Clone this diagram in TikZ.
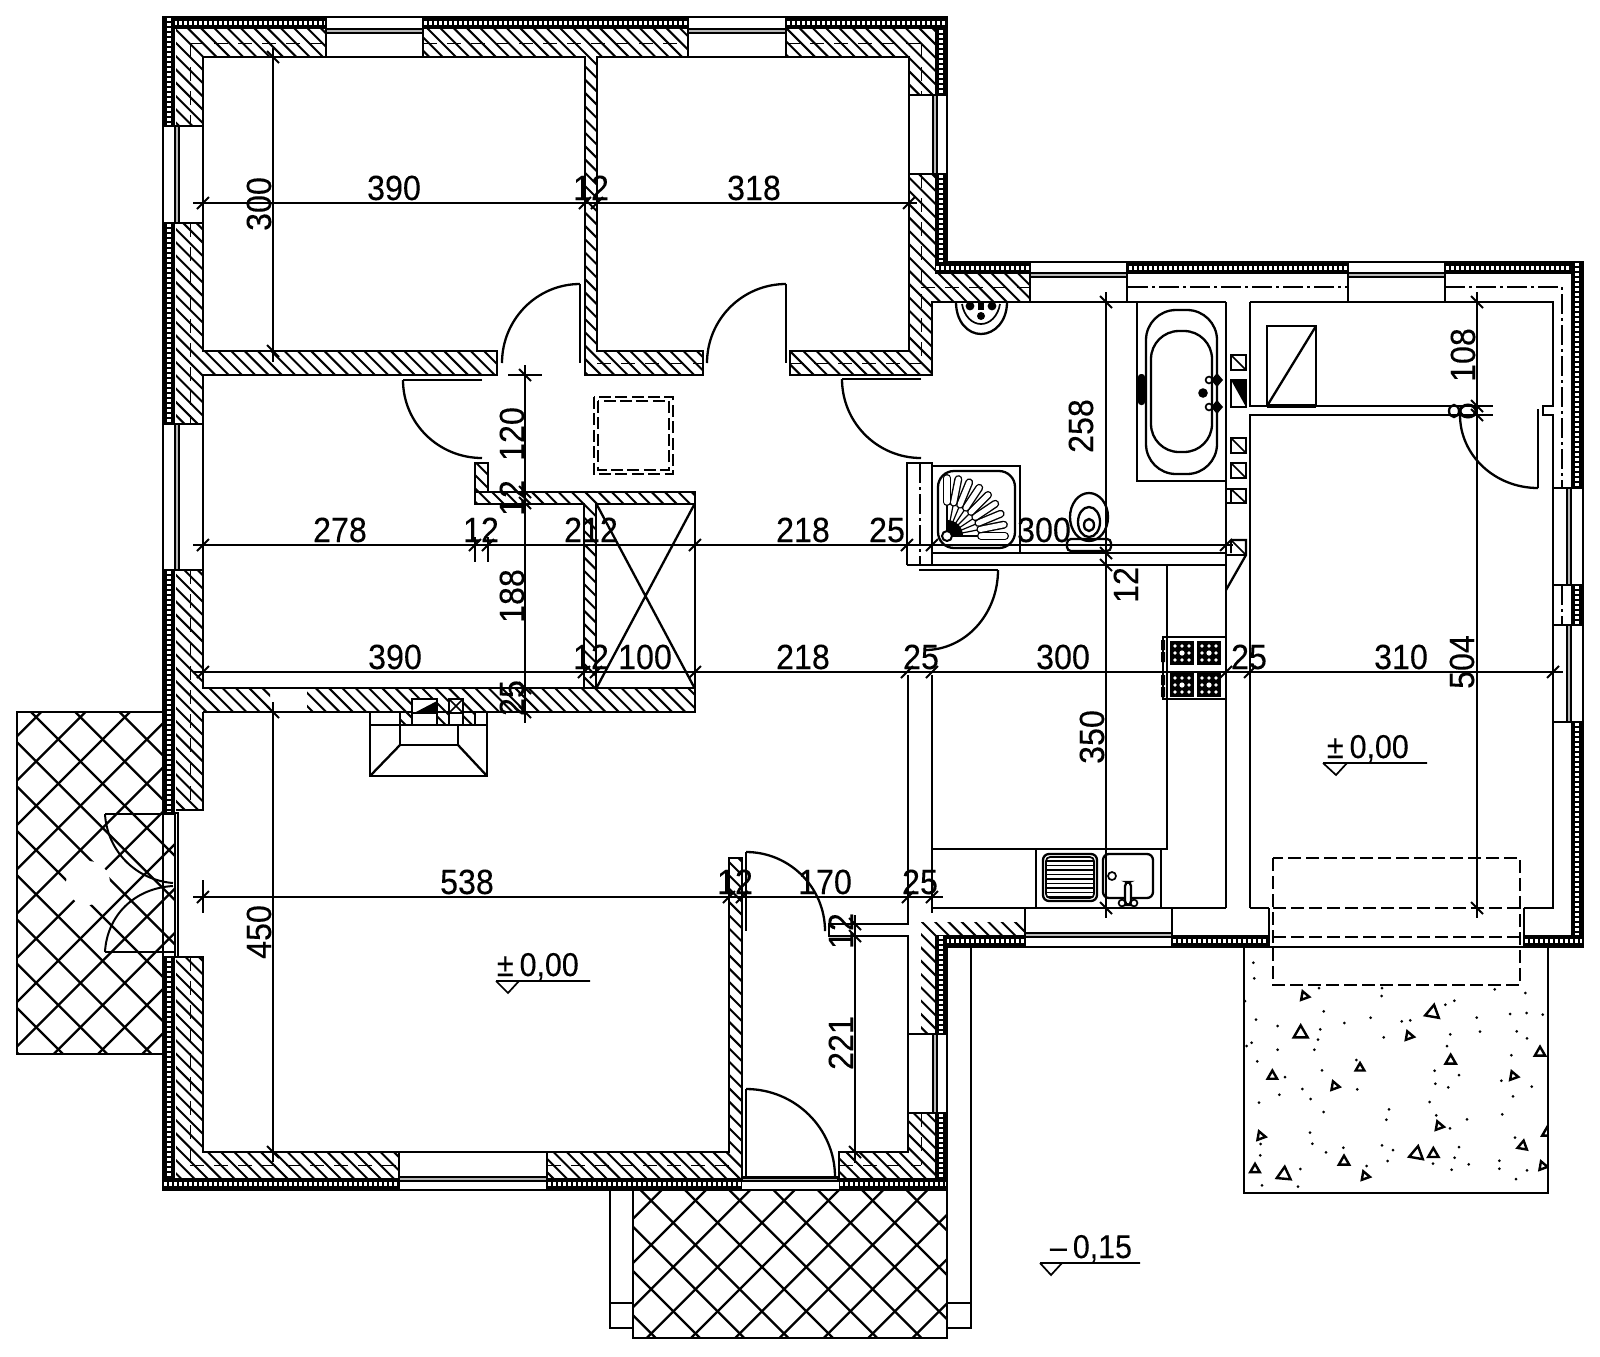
\documentclass[tikz,border=0pt]{standalone}
\usepackage{fontspec}
\setmainfont[FakeStretch=0.92,FakeBold=0.15]{Liberation Sans}
\usetikzlibrary{calc}
\tikzset{
  ln/.style={draw=black,line width=1.15pt},
  tn/.style={draw=black,line width=0.85pt},
  dl/.style={draw=black,line width=1pt},
  hl/.style={draw=black,line width=1pt},
  xl/.style={draw=black,line width=1.15pt},
  mid/.style={draw=black,line width=0.5pt,dash pattern=on 7pt off 5pt},
  dashdot/.style={draw=black,line width=1pt,dash pattern=on 10pt off 2pt on 1.5pt off 2pt},
  dashbox/.style={draw=black,line width=1.15pt,dash pattern=on 6.5pt off 2.5pt},
  dashsq/.style={draw=black,line width=1pt,dash pattern=on 6pt off 2.2pt},
  lab/.style={inner sep=0pt,outer sep=0pt,font=\fontsize{17.5}{20}\selectfont},
  lev/.style={inner sep=0pt,outer sep=0pt,font=\fontsize{16.5}{18}\selectfont},
  tl/.style={draw=black,line width=1.2pt,line join=miter},
  glass/.style={draw=black,line width=0.6pt,fill=black!28},
  dots/.style={draw=white,line width=2.2pt,dash pattern=on 1.5pt off 1pt}
}
\newcommand\hdim[4]{\draw[dl] (#2,#1) -- (#3,#1);
  \foreach \t in {#4} {\draw[dl] (\t-6,#1+6) -- (\t+6,#1-6);}}
\newcommand\vdim[4]{\draw[dl] (#1,#2) -- (#1,#3);
  \foreach \t in {#4} {\draw[dl] (#1-6,\t-6) -- (#1+6,\t+6);}}
\newcommand\hlab[4]{\node[lab,anchor=base] (#1) at (#2,#3) {#4};}
\newcommand\vlab[4]{\node[lab,rotate=90,anchor=base] (#1) at (#2,#3) {#4};}
\newcommand\qarc[3]{\draw[ln] (#1) .. controls ($(#1)!0.5523!(#2)$) and ($(#3)!0.5523!(#2)$) .. (#3);}
% insulation bands
\newcommand\insh[3]{\fill[black] (#1,#3) rectangle (#2,#3+12); \draw[dots] (#1+1,#3+6) -- (#2-1,#3+6);}
\newcommand\insv[3]{\fill[black] (#3,#1) rectangle (#3+12,#2); \draw[dots] (#3+6,#1+1) -- (#3+6,#2-1);}
\newcommand\glh[3]{\draw[glass] (#1,#3) rectangle (#2,#3+4);}
\newcommand\glv[3]{\draw[glass] (#3,#1) rectangle (#3+4,#2);}
\newcommand\crossh[2]{\foreach \k in {-13,...,13}{
   \pgfmathsetmacro\ca{#1+44.3*\k}\pgfmathsetmacro\cb{#2+44.3*\k}
   \draw[xl] (\ca+600,600) -- (\ca+1400,1400);
   \draw[xl] (\cb-600,600) -- (\cb-1400,1400);}}
\newcommand\trimark[4]{\draw[tl] ({1240+#1/3+#3*cos(#4)},{950+#2/3+#3*sin(#4)}) -- ({1240+#1/3+#3*cos(#4+120)},{950+#2/3+#3*sin(#4+120)}) -- ({1240+#1/3+#3*cos(#4+240)},{950+#2/3+#3*sin(#4+240)}) -- cycle;}
\newcommand\chsq[2]{\draw[ln] (1231,#1) rectangle (1246,#2); \draw[tn] (1231,#1) -- (1246,#2);}
\newcommand\burner[2]{\fill[black] (#1-12,#2-12) rectangle (#1+12,#2+12);
  \foreach \i in {-7,0,7}{\foreach \j in {-7,0,7}{\fill[white] (#1+\i,#2+\j) circle (0.9pt);}}
  \fill[white] (#1,#2) circle (1.3pt);}
\begin{document}
\begin{tikzpicture}[x=0.5pt,y=-0.5pt,line cap=butt]
\useasboundingbox (0,0) rectangle (1600,1356);
\fill[white] (0,0) rectangle (1600,1356);

% ---- cross hatched terraces
\begin{scope}
 \clip (17,712) rectangle (163,1054) (163,813) rectangle (174,957);
 \crossh{-681}{797.6}
 \fill[white] (88,883) circle (11pt);
\end{scope}
\begin{scope}
 \clip (633,1190) rectangle (947,1338);
 \crossh{-549.4}{1896}
\end{scope}

% ---- wall hatching
\begin{scope}
 \clip (176,29) rectangle (326,57)
  (423,29) rectangle (688,57)
  (786,29) rectangle (935,57)
  (909,57) rectangle (935,95)
  (909,174) rectangle (935,275)
  (909,275) rectangle (932,375)
  (932,274) rectangle (1030,302)
  (176,57) rectangle (203,126)
  (176,223) rectangle (203,424)
  (176,570) rectangle (203,810)
  (176,957) rectangle (203,1178)
  (203,1152) rectangle (399,1178)
  (547,1152) rectangle (742,1178)
  (729,858) rectangle (742,1178)
  (839,1152) rectangle (935,1178)
  (909,1113) rectangle (935,1152)
  (921,922) rectangle (935,1034)
  (921,922) rectangle (1025,935)
  (203,351) rectangle (497,375)
  (585,57) rectangle (597,375)
  (585,351) rectangle (703,375)
  (790,351) rectangle (932,375)
  (475,463) rectangle (488,504)
  (475,492) rectangle (695,504)
  (584,504) rectangle (596,688)
  (203,688) rectangle (270,712)
  (307,688) rectangle (695,712)
  (400,712) rectangle (412,725)
  (437,712) rectangle (449,725)
  (463,712) rectangle (475,725);
 \foreach \k in {-95,...,72}{
   \pgfmathsetmacro\ca{\k*13.3}
   \draw[hl] (\ca+0,0) -- (\ca+1300,1300);}
\end{scope}

% mid dashes of the walls
\draw[mid] (190,43) -- (326,43) (423,43) -- (688,43) (786,43) -- (921,43);
\draw[mid] (190,43) -- (190,126) (190,223) -- (190,424) (190,570) -- (190,810) (190,957) -- (190,1165);
\draw[mid] (190,1165) -- (399,1165) (547,1165) -- (729,1165) (839,1165) -- (921,1165);
\draw[mid] (921,43) -- (921,95) (921,174) -- (921,363) (921,1113) -- (921,1165);
\draw[mid] (790,363) -- (921,363) (597,363) -- (703,363) (921,287) -- (1030,287);

% insulation
\insh{163}{326}{17}\insh{423}{688}{17}\insh{786}{947}{17}
\insv{17}{126}{163}\insv{223}{424}{163}\insv{570}{813}{163}\insv{957}{1190}{163}
\insv{29}{95}{935}\insv{174}{274}{935}
\insh{935}{1030}{262}\insh{1128}{1348}{262}\insh{1445}{1583}{262}
\insv{262}{488}{1571}\insv{585}{625}{1571}\insv{722}{947}{1571}
\insh{1172}{1269}{935}\insh{1524}{1583}{935}\insh{935}{1025}{935}
\insv{935}{1034}{935}\insv{1113}{1190}{935}
\insh{163}{399}{1178}\insh{547}{742}{1178}\insh{839}{947}{1178}

% glazing
\glh{326}{423}{29}\glh{688}{786}{29}
\glv{95}{174}{933}\glv{126}{223}{175}\glv{424}{570}{175}
\glh{1030}{1127}{273}\glh{1348}{1445}{273}
\glv{488}{585}{1567}\glv{625}{722}{1567}
\glh{1025}{1172}{933}\glv{1034}{1113}{933}
\glh{742}{838}{1177}\glh{399}{547}{1177}

% exterior
\draw[ln] (163,17) -- (947,17) -- (947,262) -- (1583,262) -- (1583,947) -- (947,947) -- (947,1190) -- (163,1190) -- cycle;
\draw[ln] (163,712) -- (17,712) -- (17,1054) -- (163,1054);
\draw[ln] (633,1190) -- (633,1338) -- (947,1338) -- (947,1190);
\draw[ln] (610,1190) -- (610,1328) -- (633,1328) (610,1303) -- (633,1303);
\draw[ln] (947,1303) -- (971,1303) (947,1328) -- (971,1328) -- (971,947);
\draw[ln] (1244,947) -- (1244,1193) -- (1548,1193) -- (1548,947);

% window jambs
\draw[ln] (326,17) -- (326,57) (423,17) -- (423,57) (688,17) -- (688,57) (786,17) -- (786,57);
\draw[ln] (163,126) -- (203,126) (163,223) -- (203,223) (163,424) -- (203,424) (163,570) -- (203,570);
\draw[ln] (909,95) -- (947,95) (909,174) -- (947,174);
\draw[ln] (1030,262) -- (1030,302) (1127,262) -- (1127,302) (1348,262) -- (1348,302) (1445,262) -- (1445,302);
\draw[ln] (1553,488) -- (1583,488) (1553,585) -- (1583,585) (1553,625) -- (1583,625) (1553,722) -- (1583,722);
\draw[ln] (1025,908) -- (1025,947) (1172,908) -- (1172,947) (1269,908) -- (1269,947) (1524,908) -- (1524,947);
\draw[ln] (908,1034) -- (947,1034) (908,1113) -- (947,1113);
\draw[ln] (399,1152) -- (399,1190) (547,1152) -- (547,1190) (742,1178) -- (838,1178);
\draw[ln] (399,1152) -- (547,1152);

% room 1 and 2
\draw[ln] (203,57) -- (585,57) -- (585,375) -- (703,375) -- (703,351) -- (597,351) -- (597,57) -- (909,57) -- (909,351) -- (790,351) -- (790,375) -- (932,375) -- (932,302) -- (1226,302);
\draw[ln] (203,57) -- (203,351) -- (497,351) -- (497,375) -- (203,375) -- (203,688) -- (695,688) -- (695,492) -- (475,492) (203,712) -- (695,712) -- (695,688);
\draw[ln] (203,712) -- (203,810) -- (176,810);
\draw[ln] (176,957) -- (203,957) -- (203,1152) -- (399,1152) (547,1152) -- (729,1152) -- (729,858) -- (742,858) -- (742,1178);
\draw[ln] (839,1178) -- (839,1152) -- (908,1152) -- (908,936) -- (829,936) -- (829,924) -- (908,924) -- (908,675);
\draw[ln] (932,675) -- (932,913);
\draw[ln] (163,813) -- (178,813) -- (178,957) -- (163,957) (175,813) -- (175,957);
\draw[ln] (105,814) -- (175,814) (105,952) -- (175,952);

% stub, partition and lift box
\draw[ln] (488,492) -- (488,463) -- (475,463) -- (475,504) -- (584,504) -- (584,688);
\draw[ln] (596,688) -- (596,504) -- (695,504);
\draw[ln] (597,505) -- (694,687) (694,505) -- (597,687);
\draw[dashsq] (594,397) rectangle (673,474);
\draw[dashsq] (598,401) rectangle (669,470);

% fireplace
\draw[ln] (370,712) -- (370,776) -- (487,776) -- (487,712);
\draw[ln] (370,725) -- (487,725);
\draw[ln] (400,712) -- (400,745) -- (458,745) -- (458,725);
\draw[ln] (370,776) -- (400,745) (487,776) -- (458,745);
\draw[ln,fill=white] (412,699) rectangle (437,713);
\fill[black] (414,713) -- (437,701) -- (437,713) -- cycle;
\draw[ln,fill=white] (412,713) rectangle (437,725);
\draw[ln,fill=white] (449,699) rectangle (463,713);
\draw[tn] (449,699) -- (463,713) (449,713) -- (463,699);
\draw[ln,fill=white] (449,713) rectangle (463,725);
\draw[ln] (475,712) -- (475,725);

% bathroom and kitchen partitions
\draw[ln] (907,565) -- (907,463) -- (932,463) -- (932,565);
\draw[dashdot] (920,463) -- (920,565);
\draw[ln] (907,565) -- (1226,565) (932,553) -- (1226,553);
\draw[ln] (932,466) -- (1020,466) -- (1020,553);
\draw[ln] (1226,302) -- (1226,908) (1250,302) -- (1553,302) -- (1553,406) -- (1543,406) -- (1543,415) -- (1553,415) -- (1553,908) -- (1524,908);
\draw[ln] (1250,302) -- (1250,406) -- (1493,406) (1250,908) -- (1250,415) -- (1493,415);
\draw[ln] (1250,908) -- (1269,908);
\draw[ln] (932,908) -- (1226,908);
\draw[ln] (932,849) -- (1167,849) -- (1167,565);
\draw[ln] (1036,849) -- (1036,908) (1161,849) -- (1161,908);
\draw[dashdot] (1128,287) -- (1348,287) (1445,287) -- (1562,287) -- (1562,488) (1562,585) -- (1562,625);
\draw[ln] (1454,411) ellipse [x radius=5,y radius=6];
\draw[line width=1.5pt] (1468,411) ellipse [x radius=8,y radius=6];

% doors
\draw[ln] (580,284) -- (580,363); \qarc{580,284}{502,284}{502,363}
\draw[ln] (786,284) -- (786,363); \qarc{786,284}{707,284}{707,363}
\draw[ln] (921,379) -- (842,379); \qarc{842,379}{842,458}{921,458}
\draw[ln] (482,380) -- (403,380); \qarc{403,380}{403,458}{482,458}
\draw[ln] (1538,409) -- (1538,488); \qarc{1538,488}{1460,488}{1460,415}
\draw[ln] (919,570) -- (998,570); \qarc{998,570}{998,650}{925,650}
\draw[ln] (746,852) -- (746,931); \qarc{746,852}{825,852}{825,931}
\draw[ln] (746,1089) -- (746,1177); \qarc{746,1089}{835,1089}{835,1177}
\draw[line width=1pt] (105,814) .. controls (107,850) and (135,880) .. (173,883);
\draw[line width=1pt] (105,952) .. controls (107,915) and (135,888) .. (173,886);

% dashed cover over the right room
\draw[dashbox] (1273,858) rectangle (1520,985);
\draw[dashbox] (1273,908) -- (1520,908) (1273,937) -- (1520,937);

% gravel terrace
\begin{scope}
 \clip (1244,947) rectangle (1548,1193);
 \foreach \a/\b in {40/38,43/85,237/114,426/114,425/138,764/118,856/129,643/152,616/164,15/153,251/184,48/209,113/228,313/219,392/203,485/214,511/211,710/203,810/192,860/189,908/194,241/238,234/269,431/262,631/253,720/245,830/244,861/265,35/278,20/288,113/299,223/299,621/288,814/316,52/334,349/330,246/361,584/362,135/381,657/375,784/392,586/401,625/412,875/410,187/417,352/418,118/434,212/447,819/439,57/458,569/456,251/486,447/478,589/496,787/493,439/509,681/508,630/535,210/548,825/563,217/581,62/582,426/586,657/591,310/593,258/607,459/600,61/616,644/623,443/633,778/632,579/641,686/643,380/648,778/656,181/657,635/659,861/661,828/687,66/706,174/710}
   {\fill[black] (1240+\a/3,950+\b/3) circle (0.75pt);}
 \trimark{193}{138}{5}{10}\trimark{182}{250}{8}{-90}\trimark{578}{188}{8}{-80}
 \trimark{507}{258}{5}{10}\trimark{632}{332}{6}{-90}\trimark{900}{308}{6}{-90}
 \trimark{97}{378}{5.5}{-90}\trimark{360}{354}{5}{-90}\trimark{284}{408}{5}{10}
 \trimark{820}{378}{5}{10}\trimark{597}{528}{5}{10}\trimark{62}{558}{5}{10}
 \trimark{922}{548}{6}{-90}\trimark{848}{588}{5.5}{-80}\trimark{530}{612}{8}{-80}
 \trimark{580}{612}{6}{-90}\trimark{312}{635}{6}{-90}\trimark{45}{658}{5.5}{-90}
 \trimark{132}{674}{8}{-85}\trimark{375}{678}{5}{10}\trimark{908}{648}{5}{10}
\end{scope}

% sanitary: basin
\draw[ln] (956,302) .. controls (956,322) and (968,334) .. (981,334) .. controls (994,334) and (1007,322) .. (1007,302);
\draw[tn] (962,304) .. controls (964,316) and (972,324) .. (981,324) .. controls (990,324) and (998,316) .. (1000,304);
\fill[black] (981,316) circle (2pt) (970,306) circle (2.2pt) (992,306) circle (2.2pt);
\fill[black] (978,302) rectangle (984,310);
% bath
\draw[ln] (1137,302) -- (1137,481) -- (1226,481);
\draw[ln,rounded corners=15pt] (1146,310) rectangle (1217,474);
\draw[ln,rounded corners=14pt] (1151,331) rectangle (1212,452);
\fill[black,rounded corners=1.5pt] (1138,374) rectangle (1145,405);
\fill[black] (1217,373) -- (1223,380) -- (1217,387) -- (1211,380) -- cycle;
\fill[black] (1217,400) -- (1223,407) -- (1217,414) -- (1211,407) -- cycle;
\draw[tn] (1209,380) circle (1.7pt) (1209,407) circle (1.7pt);
\fill[black] (1203,393) circle (2.4pt);
% shafts
\chsq{355}{370}
\draw[ln] (1231,380) rectangle (1246,407);
\fill[black] (1231,380) -- (1246,380) -- (1246,407) -- cycle;
\chsq{438}{453}\chsq{463}{478}
\chsq{489}{503}
\draw[ln] (1226,489) -- (1231,489) (1226,503) -- (1231,503);
\draw[ln] (1231,540) -- (1246,540) -- (1246,555) -- (1226,590);
\draw[tn] (1231,540) -- (1246,555) (1226,555) -- (1246,555) (1231,540) -- (1231,553);
% shower
\draw[ln,rounded corners=8pt] (938,471) rectangle (1015,548);
\foreach \a in {0,11.25,...,90}{
  \draw[draw=black,line width=0.6pt] (947,536) -- ({947+36*cos(\a)},{536-36*sin(\a)});
  \draw[line cap=round,line width=4pt,black] ({947+34*cos(\a)},{536-34*sin(\a)}) -- ({947+58*cos(\a)},{536-58*sin(\a)});
  \draw[line cap=round,line width=2.6pt,white] ({947+34*cos(\a)},{536-34*sin(\a)}) -- ({947+58*cos(\a)},{536-58*sin(\a)});
}
\fill[black] (947,536) -- (963,536) .. controls (963,527) and (956,520) .. (947,520) -- cycle;
\draw[line width=1pt,fill=white] (947,536) circle (2.5pt);
% wc
\draw[ln] (1089,517) ellipse [x radius=19,y radius=24];
\draw[ln] (1089,522) ellipse [x radius=11,y radius=15];
\draw[ln] (1089,525) ellipse [x radius=5,y radius=6];
\draw[ln,rounded corners=2pt] (1067,539) rectangle (1111,551);
% boiler
\draw[ln] (1267,326) rectangle (1316,406);
\draw[ln] (1267,406) -- (1316,326);
\draw[line width=1.7pt] (1267,406) -- (1316,406);
% hob
\draw[ln,fill=white] (1167,637) rectangle (1226,699);
\draw[ln] (1163,637) -- (1167,637) -- (1167,699) -- (1163,699) -- cycle;
\burner{1182}{653}\burner{1209}{653}\burner{1182}{685}\burner{1209}{685}
\fill[black] (1161,640) rectangle (1165,650) (1161,652) rectangle (1165,662) (1161,675) rectangle (1165,685) (1161,687) rectangle (1165,697);
% sink
\draw[ln,rounded corners=3pt] (1043,854) rectangle (1097,901);
\draw[tn,rounded corners=2pt] (1046,857) rectangle (1094,898);
\foreach \y in {861,865.5,...,897}{\draw[line width=0.8pt] (1047,\y) -- (1093,\y);}
\draw[ln,rounded corners=3pt] (1103,854) rectangle (1153,898);
\draw[tn] (1112,876) circle (2pt);
\draw[ln,fill=white,rounded corners=2pt] (1125,882) rectangle (1131,905);
\draw[tn] (1122,903) circle (1.7pt) (1134,903) circle (1.7pt);

% level marks
\node[lev,anchor=base west] (levR) at (1327,758) {±\hspace{3pt}0,00};
\draw[tn] (1323,763) -- (1427,763) (1323,763) -- (1336,775) -- (1347,763);
\node[lev,anchor=base west] (levL) at (497,976) {±\hspace{3pt}0,00};
\draw[tn] (496,981) -- (590,981) (496,981) -- (508,993) -- (519,981);
\node[lev,anchor=base west] (levO) at (1050,1258) {–\hspace{3pt}0,15};
\draw[tn] (1040,1263) -- (1140,1263) (1040,1263) -- (1051,1275) -- (1062,1263);

% dimension chains
\hdim{203}{193}{917}{203,585,597,909}
\hdim{545}{193}{1233}{203,475,488,695,907,932,1226}
\hdim{672}{193}{1563}{203,584,596,695,907,932,1226,1250,1553}
\hdim{897}{193}{943}{203,729,742,908,932}
\vdim{273}{48}{362}{57,351}
\vdim{273}{702}{1162}{712,1152}
\vdim{525}{365}{723}{375,492,503,688,712}
\vdim{1106}{292}{918}{302,553,565,908}
\vdim{1477}{292}{918}{302,406,415,908}
\vdim{855}{915}{1163}{924,936,1152}
\draw[dl] (508,375) -- (542,375);
\draw[dl] (475,537) -- (475,562) (488,537) -- (488,562);
\draw[dl] (203,880) -- (203,913);
\draw[dl] (932,545) -- (932,562);

\hlab{a1}{394}{200}{390}\hlab{a2}{591}{200}{12}\hlab{a3}{754}{200}{318}
\hlab{b1}{340}{542}{278}\hlab{b2}{481}{542}{12}\hlab{b3}{591}{542}{212}\hlab{b4}{803}{542}{218}\hlab{b5}{887}{542}{25}\hlab{b6}{1044}{542}{300}
\hlab{c1}{395}{669}{390}\hlab{c2}{591}{669}{12}\hlab{c3}{645}{669}{100}\hlab{c4}{803}{669}{218}\hlab{c5}{921}{669}{25}\hlab{c6}{1063}{669}{300}\hlab{c7}{1249}{669}{25}\hlab{c8}{1401}{669}{310}
\hlab{d1}{467}{894}{538}\hlab{d2}{735}{894}{12}\hlab{d3}{825}{894}{170}\hlab{d4}{920}{894}{25}
\vlab{e1}{271}{204}{300}
\vlab{e2}{271}{932}{450}
\vlab{f1}{524}{434}{120}\vlab{f2}{524}{498}{12}\vlab{f3}{524}{596}{188}\vlab{f4}{524}{698}{25}
\vlab{g1}{1093}{426}{258}\vlab{g2}{1138}{585}{12}\vlab{g3}{1104}{737}{350}
\vlab{h1}{1475}{355}{108}\vlab{h2}{1474}{662}{504}
\vlab{i1}{853}{931}{12}\vlab{i2}{853}{1043}{221}
\end{tikzpicture}
\end{document}
